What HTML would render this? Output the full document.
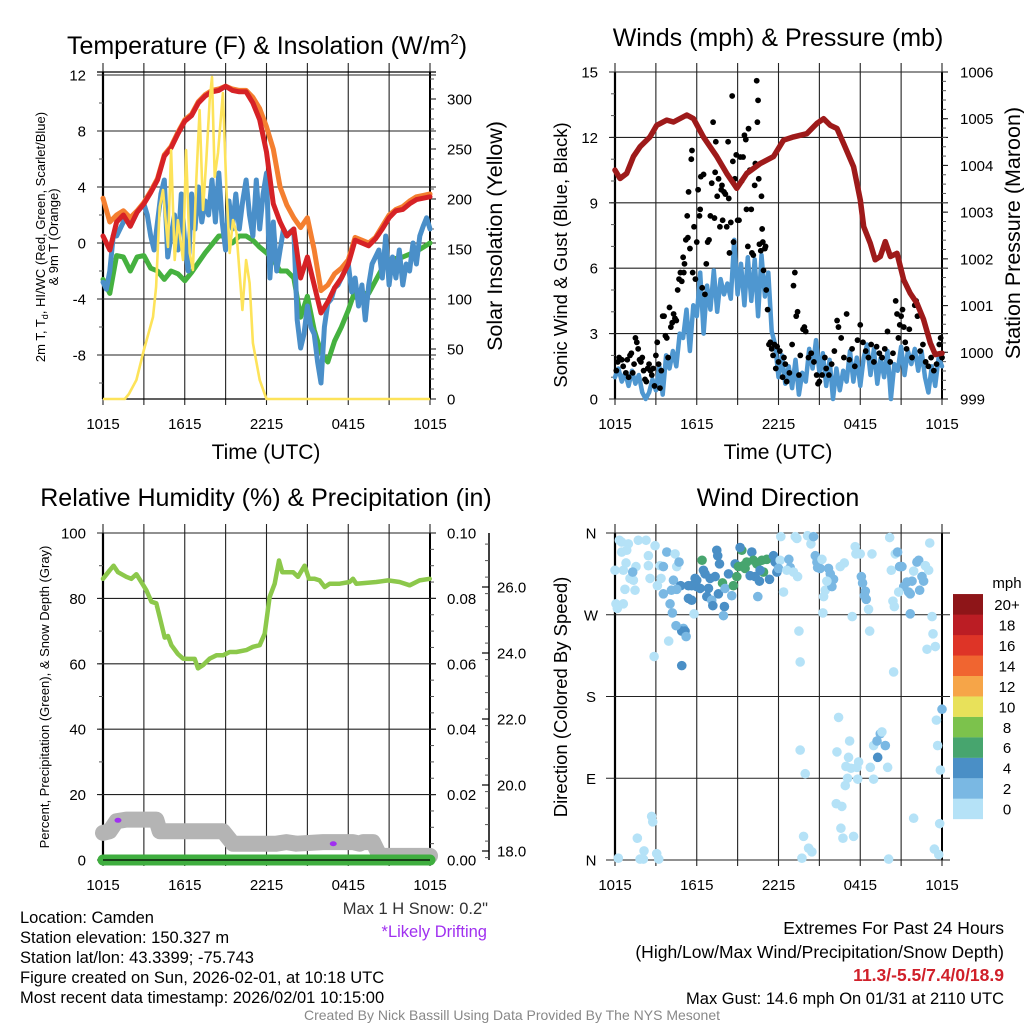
<!DOCTYPE html>
<html><head><meta charset="utf-8"><style>
html,body{margin:0;padding:0;background:#fff;}
svg{display:block;font-family:"Liberation Sans",Arial,sans-serif;}
</style></head><body>
<svg id="fig" width="1024" height="1024" viewBox="0 0 1024 1024" xmlns="http://www.w3.org/2000/svg">
<rect width="1024" height="1024" fill="#fff"/>
<g id="layer"></g>
<!-- titles -->
<text x="267" y="54" font-size="25" text-anchor="middle">Temperature (F) &amp; Insolation (W/m<tspan font-size="15" dy="-10">2</tspan><tspan dy="10">)</tspan></text>
<text x="778" y="46" font-size="25" text-anchor="middle">Winds (mph) &amp; Pressure (mb)</text>
<text x="266" y="506" font-size="25" text-anchor="middle">Relative Humidity (%) &amp; Precipitation (in)</text>
<text x="778" y="506" font-size="25" text-anchor="middle">Wind Direction</text>
<!-- axis titles -->
<text x="266" y="459" font-size="21" text-anchor="middle">Time (UTC)</text>
<text x="778" y="459" font-size="21" text-anchor="middle">Time (UTC)</text>
<text transform="translate(45,237) rotate(-90)" font-size="13" text-anchor="middle">2m T, T<tspan font-size="9" dy="3">d</tspan><tspan dy="-3">, HI/WC (Red, Green, Scarlet/Blue)</tspan></text>
<text transform="translate(58,237) rotate(-90)" font-size="13" text-anchor="middle">&amp; 9m T (Orange)</text>
<text transform="translate(502,236) rotate(-90)" font-size="21.5" text-anchor="middle">Solar Insolation (Yellow)</text>
<text transform="translate(567,255) rotate(-90)" font-size="18.5" text-anchor="middle">Sonic Wind &amp; Gust (Blue, Black)</text>
<text transform="translate(1020,233) rotate(-90)" font-size="21.5" text-anchor="middle">Station Pressure (Maroon)</text>
<text transform="translate(49,697) rotate(-90)" font-size="13" text-anchor="middle">Percent, Precipitation (Green), &amp; Snow Depth (Gray)</text>
<text transform="translate(567,697) rotate(-90)" font-size="18.5" text-anchor="middle">Direction (Colored By Speed)</text>
<!-- info text -->
<g font-size="16.5" fill="#000">
<text x="20" y="923">Location: Camden</text>
<text x="20" y="943">Station elevation: 150.327 m</text>
<text x="20" y="963">Station lat/lon: 43.3399; -75.743</text>
<text x="20" y="983">Figure created on Sun, 2026-02-01, at 10:18 UTC</text>
<text x="20" y="1003">Most recent data timestamp: 2026/02/01 10:15:00</text>
</g>
<text x="488" y="914" font-size="16.5" fill="#333" text-anchor="end">Max 1 H Snow: 0.2"</text>
<text x="487" y="937" font-size="16.5" fill="#a030f0" text-anchor="end">*Likely Drifting</text>
<g font-size="17.5" text-anchor="end">
<text x="1004" y="934">Extremes For Past 24 Hours</text>
<text x="1004" y="958">(High/Low/Max Wind/Precipitation/Snow Depth)</text>
<text x="1004" y="981" fill="#d0202a" font-weight="bold">11.3/-5.5/7.4/0/18.9</text>
<text x="1004" y="1004" font-size="16.5">Max Gust: 14.6 mph On 01/31 at 2110 UTC</text>
</g>
<text x="512" y="1020" font-size="14" fill="#888" text-anchor="middle">Created By Nick Bassill Using Data Provided By The NYS Mesonet</text>
</svg>
<script>
// ---------- data ----------
const timeTickLabels = ["1015","1615","2215","0415","1015"];
const tempTicks = [12,8,4,0,-4,-8];
const solarTicks = [0,50,100,150,200,250,300];
const windTicks = [0,3,6,9,12,15];
const pressTicks = [999,1000,1001,1002,1003,1004,1005,1006];
const rhTicks = [0,20,40,60,80,100];
const precipTickLabels = ["0.00","0.02","0.04","0.06","0.08","0.10"];
const snowTicks = [18,20,22,24,26];
const dirTickLabels = ["N","E","S","W","N"];
const legendLabels = ["0","2","4","6","8","10","12","14","16","18","20+"];

// temperature series, every 0.5 h from 1015 UTC
const tempRed = [0.5,-0.5,1.5,2.0,1.2,2.2,2.8,3.6,4.5,6.2,6.8,7.8,8.7,9.1,10.0,10.5,10.8,10.9,11.2,10.9,10.8,10.8,10.0,8.8,6.5,2.8,1.5,0.5,1.0,-2.5,-1.0,-3.0,-5.0,-4.2,-3.2,-2.5,-1.5,0.2,0.0,-0.2,0.3,1.0,1.8,2.3,2.4,2.8,3.1,3.2,3.3];
const tempOrange = [3.2,1.5,2.0,2.3,1.8,2.3,2.9,3.7,4.6,6.3,6.9,7.9,8.8,9.2,10.1,10.6,10.9,11.0,11.2,11.0,10.9,10.9,10.4,9.6,8.3,6.7,4.0,2.7,1.8,1.1,1.8,-0.5,-3.4,-3.0,-2.2,-1.8,-1.2,0.4,0.2,0.0,0.4,1.2,2.0,2.4,2.6,3.0,3.3,3.4,3.5];
const tempDew = [-2.6,-3.6,-0.9,-1.0,-2.0,-1.0,-0.9,-1.8,-2.0,-2.6,-2.0,-2.2,-2.7,-2.1,-1.4,-0.7,-0.1,0.5,0.5,0.0,0.5,0.5,0.2,-0.3,-0.7,-1.2,-2.0,-2.0,-2.5,-5.3,-3.8,-6.2,-7.8,-8.5,-7.0,-6.0,-4.8,-3.4,-3.6,-3.6,-2.7,-1.8,-1.2,-1.1,-1.0,-0.8,-0.6,-0.3,0.0];
// heat index / wind chill, every 0.25 h
const tempWindChill = [-2.8,-3.3,-2.0,0.5,0.5,1.0,1.5,1.8,1.2,1.7,2.2,2.5,2.8,2.0,0.5,-0.5,1.5,3.5,4.5,-1.0,0.5,2.0,-0.5,3.5,0.0,-2.0,3.5,1.0,4.0,1.5,3.0,2.0,4.5,1.5,5.0,1.5,-0.5,3.0,1.0,3.5,1.0,3.0,4.5,2.0,0.5,4.5,1.0,3.5,5.0,-2.5,1.5,-2.0,-0.5,1.0,0.5,0.8,1.0,-5.5,-7.5,-6.5,-4.5,-6.0,-6.5,-8.5,-10.0,-6.0,-4.3,-4.0,-3.2,-3.0,-2.5,-2.0,-1.5,-3.5,-2.5,-4.5,-3.0,-5.5,-3.0,-1.5,-1.0,-0.5,-2.5,0.5,-3.0,-1.0,-2.5,-0.5,-3.0,-1.5,-2.0,0.0,-1.5,0.5,1.2,1.8,1.0];
// solar insolation (hours since start, W/m2)
const solarHours = [0,1.6,1.9,2.45,3.0,3.67,3.9,4.16,4.4,4.77,5.0,5.26,5.5,5.87,6.1,6.36,6.6,6.85,7.09,7.34,7.58,7.83,8.0,8.2,8.44,8.8,9.05,9.3,9.54,9.8,10.23,10.5,10.76,11.0,11.5,12.0,24];
const solarValues = [0,0,5,19,49,82,112,192,209,152,249,139,179,139,249,146,129,219,289,189,239,299,322,222,246,306,212,146,179,166,89,139,116,56,19,0,0];

// winds (every 0.25 h)
const windSustained = [1.0,1.4,0.8,1.2,0.6,1.3,0.7,1.1,0.3,0.0,0.3,0.9,0.4,1.5,0.2,2.0,1.4,2.2,1.5,3.0,2.8,4.1,2.2,4.3,3.8,5.8,3.0,5.2,4.1,5.9,4.0,5.5,4.8,5.3,4.6,7.3,4.8,6.2,4.3,6.5,4.5,6.4,3.8,6.6,4.7,5.8,3.1,2.5,1.0,2.0,0.7,1.5,0.5,1.8,0.2,1.2,0.8,2.3,1.4,2.7,1.2,2.1,0.6,1.8,0.0,1.4,0.4,1.3,0.8,2.2,0.8,1.9,0.6,1.9,2.5,1.1,2.3,0.7,1.9,1.0,2.2,0.0,1.6,1.3,2.4,1.1,2.2,1.6,2.3,1.3,2.2,1.0,0.3,1.5,0.6,1.9,1.5];
const gustHours = [0.1,0.2,0.3,0.5,0.6,0.8,0.9,1.0,1.1,1.2,1.3,1.4,1.5,1.6,1.7,1.8,1.9,2.0,2.1,2.2,2.3,2.4,2.5,2.6,2.7,2.8,2.9,3.0,3.1,3.2,3.3,3.4,3.5,3.6,3.7,3.8,3.9,4.0,4.1,4.2,4.3,4.4,4.5,4.6,4.7,4.8,4.9,5.0,5.05,5.1,5.2,5.3,5.35,5.4,5.5,5.6,5.65,5.7,5.8,5.9,6.0,6.1,6.2,6.25,6.3,6.4,6.5,6.6,6.7,6.8,6.9,7.0,7.1,7.2,7.3,7.35,7.4,7.5,7.6,7.7,7.8,7.85,7.9,8.0,8.1,8.2,8.3,8.35,8.4,8.5,8.6,8.65,8.7,8.8,8.9,9.0,9.1,9.2,9.3,9.4,9.5,9.6,9.65,9.75,9.8,9.9,10.0,10.05,10.15,10.25,10.3,10.4,10.45,10.5,10.55,10.6,10.7,10.75,10.8,10.85,10.9,11.0,11.05,11.1,11.2,11.3,11.4,11.5,11.6,11.7,11.8,11.9,12.0,12.1,12.3,12.4,12.5,12.6,12.8,13.0,13.1,13.2,13.3,13.4,13.5,13.6,13.8,13.9,14.0,14.2,14.4,14.6,14.8,14.9,15.0,15.2,15.4,15.5,15.7,15.9,16.1,16.3,16.4,16.6,16.8,17.0,17.2,17.4,17.6,17.8,18.0,18.2,18.4,18.6,18.8,19.0,19.2,19.4,19.6,19.8,20.0,20.2,20.4,20.6,20.7,20.8,20.9,21.0,21.1,21.2,21.3,21.4,21.6,21.8,22.0,22.1,22.2,22.4,22.6,22.8,23.0,23.2,23.4,23.6,23.8,23.9,24.0];
const gustValues = [1.3,1.7,1.9,1.8,1.5,1.2,1.8,1.0,2.0,2.1,1.2,1.6,2.8,2.6,2.3,1.8,1.7,1.9,1.3,0.9,0.8,1.4,1.6,1.3,1.1,1.4,0.6,2.0,2.6,1.6,0.5,1.3,3.8,3.8,2.9,2.8,1.9,4.2,3.3,3.5,3.9,3.7,3.6,5.0,5.5,5.8,5.4,6.5,5.8,6.2,7.3,8.4,7.4,9.5,6.9,11.0,11.4,5.8,7.9,5.5,7.2,9.6,8.4,8.7,10.2,5.1,10.3,4.8,6.2,7.2,7.3,8.4,9.9,12.7,8.3,10.4,11.8,9.3,10.1,7.9,9.6,9.8,8.2,9.5,9.4,7.9,11.8,9.2,6.7,8.1,13.9,10.9,7.2,10.1,11.2,8.2,8.2,11.1,10.0,11.1,12.1,11.9,8.7,7.0,12.4,10.5,8.7,6.7,6.6,9.8,10.8,14.6,12.7,13.7,10.1,7.1,6.8,9.3,7.8,7.2,5.9,6.9,7.0,5.0,4.1,2.5,2.6,2.3,2.0,2.5,1.4,2.4,1.7,2.2,1.0,1.9,1.6,0.8,1.2,2.5,5.2,5.8,3.8,4.0,1.1,2.0,3.2,3.3,3.1,1.9,2.1,1.7,1.1,0.7,0.8,1.1,1.9,1.4,1.1,1.6,2.2,3.6,3.3,2.8,1.9,3.9,1.8,2.3,1.5,2.7,3.4,2.6,2.2,1.9,2.5,1.7,2.4,2.1,1.9,2.3,3.1,1.7,2.1,4.5,3.9,2.8,3.4,3.8,4.1,3.3,2.6,2.3,3.2,1.9,4.3,4.5,3.8,2.2,2.5,1.7,1.5,1.9,1.3,1.6,2.5,2.8,1.9];
const pressHours = [0,0.37,0.86,1.35,1.84,2.57,3.06,3.80,4.29,5.27,5.76,6.49,7.47,8.20,8.94,9.67,10.65,11.63,12.37,13.10,14.08,14.82,15.31,15.80,16.29,16.78,17.51,18.00,18.25,18.74,19.10,19.47,19.84,20.21,20.70,21.19,21.67,22.16,22.65,23.14,23.51,24.0];
const pressValues = [1003.90,1003.72,1003.83,1004.19,1004.40,1004.61,1004.86,1004.97,1004.93,1005.08,1005.00,1004.61,1004.19,1003.83,1003.51,1003.83,1004.04,1004.19,1004.54,1004.61,1004.68,1004.90,1005.00,1004.86,1004.79,1004.47,1003.97,1003.26,1002.69,1002.33,1001.98,1002.05,1002.37,1002.05,1002.12,1001.55,1001.26,1001.05,1000.70,1000.20,999.95,999.98];

// RH / precip / snow
const rhHours = [0,0.49,0.78,1.10,1.71,2.08,2.45,2.81,3.18,3.55,3.91,4.16,4.53,4.77,5.02,5.50,5.87,6.24,6.73,6.97,7.34,7.83,8.32,8.81,9.30,9.79,10.52,11.01,11.50,11.87,12.23,12.60,12.92,13.16,13.46,13.95,14.31,14.80,15.12,15.54,15.90,16.27,16.64,17.37,18.10,18.35,18.59,20.06,20.92,21.77,22.51,22.75,23.24,23.98];
const rhValues = [86.0,88.6,90.0,88.0,86.6,86.0,87.4,85.0,82.5,79.0,78.5,74.3,68.0,68.5,65.7,63.0,61.6,61.5,61.5,58.6,59.6,61.6,62.6,62.6,63.6,63.6,64.2,65.2,65.7,69.2,80.4,84.5,91.6,88.0,88.0,88.0,86.6,90.0,86.0,86.0,85.5,83.5,84.5,84.5,85.0,86.0,84.5,85.0,85.5,85.0,84.0,84.5,85.5,86.0];
const precipHours = [0,24];
const precipValues = [0,0];
const snowHours = [0,0.49,0.98,1.71,3.91,4.16,8.81,9.54,12.72,13.46,14.19,16.15,18.35,18.84,19.08,19.82,20.31,24];
const snowValues = [18.55,18.6,18.9,18.95,18.95,18.6,18.6,18.22,18.22,18.27,18.22,18.27,18.27,18.22,18.27,18.27,17.85,17.85];
const driftHours = [1.1,16.9];
const driftValues = [18.93,18.22];

// wind direction scatter
const dirHours = [0.32,0.49,0.98,1.71,2.28,0.49,0.86,0.0,0.61,0.81,1.10,1.35,1.47,0.73,1.54,1.30,0.07,0.61,0.17,2.45,2.57,2.94,3.11,2.45,
0.24,1.84,2.08,2.13,1.64,2.69,2.77,3.06,3.21,
3.31,3.55,3.80,4.41,4.53,4.70,3.38,4.29,4.14,3.55,4.04,4.21,4.82,5.39,5.63,5.88,6.00,5.39,5.63,5.80,5.02,5.14,4.90,4.48,5.22,3.94,2.87,4.90,4.53,
6.39,7.47,7.54,7.67,6.49,6.61,6.00,6.25,6.86,6.98,7.35,6.74,7.10,7.18,7.59,7.89,8.08,8.03,8.57,7.96,8.33,8.69,8.94,8.82,9.31,9.18,9.06,
9.43,9.67,9.55,10.04,10.16,10.41,10.78,11.14,10.90,10.65,10.29,9.92,10.60,11.34,11.63,11.76,11.88,10.48,12.12,12.37,12.17,12.00,
12.76,12.86,12.61,13.10,13.40,13.23,13.35,14.13,14.38,14.57,14.70,14.82,14.87,15.06,15.19,15.43,15.31,15.26,13.50,13.59,13.59,13.96,13.84,14.21,14.45,13.72,
15.67,15.80,16.04,15.92,15.55,16.53,16.83,17.63,17.68,18.00,17.41,16.41,16.29,17.22,17.14,16.95,17.32,17.88,17.07,16.90,17.76,17.81,16.24,16.65,16.58,16.73,17.51,
18.08,18.17,18.37,18.30,18.44,18.61,18.86,18.69,18.98,19.23,19.47,19.59,19.84,19.28,18.74,20.01,18.98,20.16,20.28,20.40,20.50,20.45,20.08,20.57,20.74,20.89,21.06,
21.19,21.43,21.67,21.55,21.80,21.92,22.16,22.29,22.53,22.65,22.36,22.78,23.02,23.10,21.67,20.82,23.27,23.34,22.90,23.51,24.0,23.59,23.68,23.88,21.92,23.83,23.44,23.76];
const dirValues = [352,350,348,352,352,339,341,319,319,327,310,308,297,298,323,317,282,282,277,335,310,346,302,324,
2,1,1,10,24,48,42,7,1,
324,323,339,337,323,328,310,308,297,293,282,272,302,302,302,310,308,288,286,271,255,252,252,258,246,241,224,214,298,
330,341,335,326,319,315,301,299,299,310,312,290,286,280,293,305,299,279,291,269,315,302,312,326,341,344,323,
324,328,321,339,330,326,330,331,317,319,312,313,307,309,335,328,317,290,330,295,356,321,
331,322,319,317,312,356,354,357,348,356,335,328,322,321,331,297,290,272,252,218,121,95,26,13,9,2,
321,315,309,301,307,323,327,345,337,337,268,157,119,131,113,103,101,108,90,82,102,89,62,59,35,24,26,
312,305,296,291,287,276,337,252,126,131,139,141,126,113,102,102,89,355,319,285,279,207,1,337,339,323,323,
301,306,293,295,307,318,328,330,312,307,297,324,319,349,271,295,268,249,232,235,166,154,126,99,46,40,12,6];
const dirSpeeds = [1,1,1,1,1,1,1,1,1,1,1,1,1,1,1,3,1,1,1,1,1,1,1,1,
1,1,1,1,1,1,1,1,1,
1,3,3,1,1,3,1,3,3,3,3,3,5,5,5,5,5,5,5,1,3,5,5,3,3,1,1,5,3,
7,5,5,5,5,5,5,5,5,5,5,5,3,5,5,7,3,5,3,3,5,7,7,5,7,5,7,
7,7,7,5,7,7,7,7,7,5,5,5,5,5,5,5,5,3,1,1,1,3,
3,3,1,1,1,1,1,1,1,3,3,3,3,3,1,1,1,1,1,1,1,1,1,1,1,1,
3,3,3,3,1,1,1,1,1,1,1,1,1,1,1,1,1,1,1,1,1,1,1,1,1,1,1,
3,3,3,3,3,1,1,1,1,3,3,1,3,5,1,1,1,1,1,1,1,1,1,1,3,3,3,
3,3,3,3,3,1,3,3,3,3,3,1,1,1,3,1,1,1,1,1,3,1,1,1,1,1,1,1];
const speedColors = ["#b5e2f7","#7ab8e3","#4a8fc6","#47a56e","#7cc24c","#e8e15a","#f6a548","#f06530","#de3427","#bb1d24","#8e1518"];

// ---------- helpers ----------
const NS = "http://www.w3.org/2000/svg";
const layer = document.getElementById("layer");
function mk(tag, attrs, parent) {
  const e = document.createElementNS(NS, tag);
  for (const k in attrs) e.setAttribute(k, attrs[k]);
  (parent || layer).appendChild(e);
  return e;
}
function grp(name) {
  const g = mk("g", {});
  
  
  return g;
}
const PW = 327, PH = 327;
const TICK_FS = 15;
function xScale(x0) { return h => x0 + h * PW / 24; }
function linY(y0, y1, v0, v1) { return v => y0 + (v - v0) * (y1 - y0) / (v1 - v0); }
function pathFrom(xs, ys, X, Y) {
  let d = "";
  for (let i = 0; i < xs.length; i++) d += (i ? "L" : "M") + X(xs[i]).toFixed(1) + "," + Y(ys[i]).toFixed(1);
  return d;
}
function evenHours(n) { const a = []; for (let i = 0; i < n; i++) a.push(i * 24 / (n - 1)); return a; }

function timeAxis(x0, top, bottom, gridTop, labelY, name) {
  const g = grp(name + "-time-axis");
  const X = xScale(x0);
  for (let k = 0; k <= 8; k++) {
    const x = X(k * 3);
    const l = mk("line", {x1: x, x2: x, y1: gridTop, y2: bottom + 6, stroke: "#222", "stroke-width": 1.1}, g);
    
    
  }
  timeTickLabels.forEach((t, i) => {
    const tx = mk("text", {x: X(i * 6), y: labelY, "font-size": TICK_FS, "text-anchor": "middle"}, g);
    
    
    tx.textContent = t;
  });
  const lft = mk("line", {x1: x0, x2: x0, y1: top, y2: bottom, stroke: "#000", "stroke-width": 2.2}, g);
  
  
  const rgt = mk("line", {x1: x0 + PW, x2: x0 + PW, y1: top, y2: bottom, stroke: "#000", "stroke-width": 2}, g);
  
  
}
function yAxis(side, xAxis, Y, ticks, labels, minorStep, minorRange, gridX0, gridX1, name, labelX) {
  const g = grp(name);
  if (minorStep) {
    for (let v = minorRange[0]; v <= minorRange[1] + 1e-9; v += minorStep) {
      const y = Y(v);
      const m = mk("line", {x1: xAxis, x2: xAxis + (side === "left" ? -4 : 4), y1: y, y2: y, stroke: "#555", "stroke-width": 1}, g);
      
      
    }
  }
  ticks.forEach((v, i) => {
    const y = Y(v);
    const gl = mk("line", {x1: gridX0, x2: gridX1, y1: y, y2: y, stroke: "#222", "stroke-width": 1.1}, g);
    
    
    const tx = mk("text", {x: labelX, y: y + 5.5, "font-size": TICK_FS, "text-anchor": side === "left" ? "end" : "start"}, g);
    
    
    tx.textContent = labels ? labels[i] : String(v);
  });
}

// ---------- panel 1 ----------
{
  const X = xScale(103);
  const YT = linY(243, 229, 0, 1);
  const YS = linY(399, 398, 0, 1);
  timeAxis(103, 72, 399, 63, 429, "temp");
  const tl = mk("line", {x1: 97, x2: 436, y1: 72, y2: 72, stroke: "#000", "stroke-width": 1.2});
  
  
  yAxis("left", 103, YT, tempTicks, null, 2, [-10, 12], 97, 436, "temp-y-axis", 86);
  yAxis("right", 430, YS, solarTicks, null, 10, [0, 320], 430, 436, "solar-y-axis", 447);
  const bl = mk("line", {x1: 103, x2: 430, y1: 399, y2: 399, stroke: "#000", "stroke-width": 1.2});
  
  
  const series = grp("temp-series");
  const dp = mk("path", {d: pathFrom(evenHours(tempDew.length), tempDew, X, YT), fill: "none", stroke: "#45b13f", "stroke-width": 5, "stroke-linejoin": "round", "stroke-linecap": "round"}, series);
  
  
  const wc = mk("path", {d: pathFrom(evenHours(tempWindChill.length), tempWindChill, X, YT), fill: "none", stroke: "#4a8fc9", "stroke-width": 5, "stroke-linejoin": "round", "stroke-linecap": "round"}, series);
  
  
  const op = mk("path", {d: pathFrom(evenHours(tempOrange.length), tempOrange, X, YT), fill: "none", stroke: "#f47f30", "stroke-width": 5, "stroke-linejoin": "round", "stroke-linecap": "round"}, series);
  
  
  const rp = mk("path", {d: pathFrom(evenHours(tempRed.length), tempRed, X, YT), fill: "none", stroke: "#d62226", "stroke-width": 5, "stroke-linejoin": "round", "stroke-linecap": "round"}, series);
  
  
  const sp = mk("path", {d: pathFrom(solarHours, solarValues, X, YS), fill: "none", stroke: "#fde35a", "stroke-width": 2.6, "stroke-linejoin": "round"}, series);
  
  
}

// ---------- panel 2 ----------
{
  const X = xScale(615);
  const YW = linY(399, 72, 0, 15);
  const YP = linY(399, 72, 999, 1006);
  timeAxis(615, 72, 399, 63, 429, "wind");
  yAxis("left", 615, YW, windTicks, null, 1, [0, 15], 609, 948, "wind-y-axis", 598);
  yAxis("right", 942, YP, pressTicks, null, 0.2, [999, 1006], 942, 948, "pressure-y-axis", 960);
  const series = grp("wind-series");
  const wp = mk("path", {d: pathFrom(evenHours(windSustained.length), windSustained, X, YW), fill: "none", stroke: "#4f97d0", "stroke-width": 4.5, "stroke-linejoin": "round", "stroke-linecap": "round"}, series);
  
  
  gustHours.forEach((h, i) => {
    const c = mk("circle", {cx: X(h), cy: YW(gustValues[i]), r: 2.9, fill: "#000"}, series);
    
    
  });
  const pp = mk("path", {d: pathFrom(pressHours, pressValues, X, YP), fill: "none", stroke: "#9e1a1a", "stroke-width": 5.5, "stroke-linejoin": "round", "stroke-linecap": "round"}, series);
  
  
}

// ---------- panel 3 ----------
{
  const X = xScale(103);
  const YR = linY(860, 533, 0, 100);
  const YSn = linY(851, 587, 18, 26);
  timeAxis(103, 533, 860, 524, 890, "rh");
  yAxis("left", 103, YR, rhTicks, null, 10, [0, 100], 97, 436, "rh-y-axis", 86);
  yAxis("right", 430, YR, rhTicks, precipTickLabels, 5, [0, 100], 430, 436, "precip-y-axis", 447);
  const sa = grp("snow-y-axis");
  const sl = mk("line", {x1: 489, x2: 489, y1: 533, y2: 860, stroke: "#000", "stroke-width": 1.5}, sa);
  
  
  for (let v = 17.8; v <= 27.6; v += 0.5) {
    const m = mk("line", {x1: 489, x2: 485, y1: YSn(v), y2: YSn(v), stroke: "#555", "stroke-width": 1}, sa);
    
    
  }
  snowTicks.forEach(v => {
    const t = mk("line", {x1: 489, x2: 482, y1: YSn(v), y2: YSn(v), stroke: "#000", "stroke-width": 1.2}, sa);
    
    
    const tx = mk("text", {x: 497, y: YSn(v) + 5.5, "font-size": TICK_FS}, sa);
    
    
    tx.textContent = v.toFixed(1);
  });
  const series = grp("rh-series");
  const gp = mk("path", {d: pathFrom(snowHours, snowValues, X, YSn), fill: "none", stroke: "#b4b4b4", "stroke-width": 16, "stroke-linejoin": "round", "stroke-linecap": "round"}, series);
  
  
  const pr = mk("path", {d: pathFrom(precipHours, precipValues, X, v => YR(v * 1000)), fill: "none", stroke: "#3fae3f", "stroke-width": 11, "stroke-linecap": "round"}, series);
  
  
  const bl = mk("line", {x1: 103, x2: 430, y1: 860, y2: 860, stroke: "#000", "stroke-width": 1.3}, series);
  
  
  driftHours.forEach((h, i) => {
    const d = mk("ellipse", {cx: X(h), cy: YSn(driftValues[i]), rx: 3.5, ry: 2.5, fill: "#a030f0"}, series);
    
    
  });
  const rp = mk("path", {d: pathFrom(rhHours, rhValues, X, YR), fill: "none", stroke: "#8cc84b", "stroke-width": 4.5, "stroke-linejoin": "round", "stroke-linecap": "round"}, series);
  
  
}

// ---------- panel 4 ----------
{
  const X = xScale(615);
  const YD = linY(860, 533, 0, 360);
  timeAxis(615, 533, 860, 524, 890, "dir");
  const ag = grp("dir-y-axis");
  dirTickLabels.forEach((t, i) => {
    const y = YD(i * 90);
    const gl = mk("line", {x1: 606, x2: 950, y1: y, y2: y, stroke: "#222", "stroke-width": 1.1}, ag);
    
    
    const tx = mk("text", {x: 591, y: y + 5.5, "font-size": TICK_FS, "text-anchor": "middle"}, ag);
    
    
    tx.textContent = t;
  });
  const series = grp("dir-points");
  dirHours.forEach((h, i) => {
    const idx = Math.min(10, Math.floor(dirSpeeds[i] / 2));
    const c = mk("circle", {cx: X(h), cy: YD(dirValues[i]), r: 4.8, fill: speedColors[idx]}, series);
    
    
  });
  const lg = grp("speed-legend");
  const lt = mk("text", {x: 1007, y: 588, "font-size": TICK_FS, "text-anchor": "middle"}, lg);
  
  
  lt.textContent = "mph";
  legendLabels.forEach((t, i) => {
    const y = 819 - (i + 1) * 20.45;
    const r = mk("rect", {x: 953, y: y, width: 30, height: 20.6, fill: speedColors[i]}, lg);
    
    
    const tx = mk("text", {x: 1007, y: y + 16, "font-size": TICK_FS, "text-anchor": "middle"}, lg);
    
    
    tx.textContent = t;
  });
}
</script>
</body></html>
